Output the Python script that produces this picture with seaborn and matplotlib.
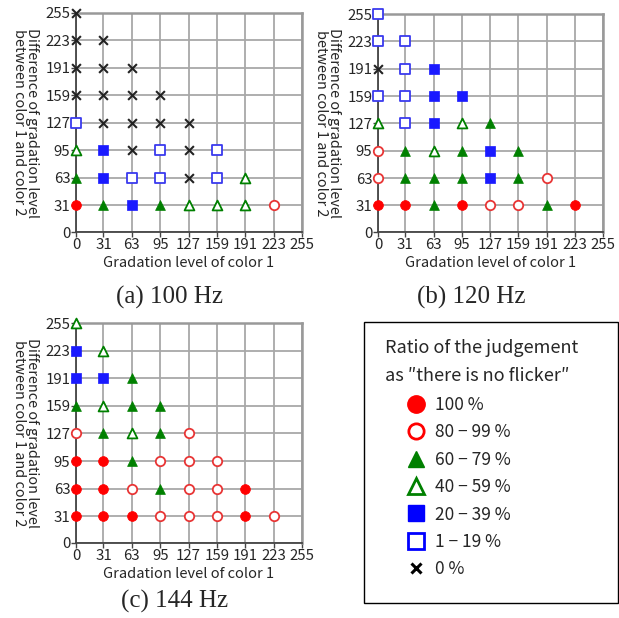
import matplotlib
matplotlib.use("Agg")
import matplotlib.pyplot as plt
from matplotlib.lines import Line2D
from matplotlib.patches import Rectangle
import seaborn as sns
import pandas as pd

sns.set_style("white")
plt.rcParams['font.family'] = ['Noto Sans CJK JP', 'DejaVu Sans']

ticks = [0, 31, 63, 95, 127, 159, 191, 223, 255]

# category codes: c100 filled circle, c80 open circle, t60 filled triangle,
# t40 open triangle, s20 filled square, s1 open square, x0 cross
a_x = [0, 0, 31, 0, 31, 63, 0, 31, 63, 95, 0, 31, 63, 95, 127,
       0, 31, 63, 95, 127, 159, 0, 31, 63, 95, 127, 159, 191,
       0, 31, 63, 95, 127, 159, 191, 223]
a_y = [255, 223, 223, 191, 191, 191, 159, 159, 159, 159, 127, 127, 127, 127, 127,
       95, 95, 95, 95, 95, 95, 63, 63, 63, 63, 63, 63, 63,
       31, 31, 31, 31, 31, 31, 31, 31]
a_cat = ['x0', 'x0', 'x0', 'x0', 'x0', 'x0', 'x0', 'x0', 'x0', 'x0',
         's1', 'x0', 'x0', 'x0', 'x0',
         't40', 's20', 'x0', 's1', 'x0', 's1',
         't60', 's20', 's1', 's1', 'x0', 's1', 't40',
         'c100', 't60', 's20', 't60', 't40', 't40', 't40', 'c80']

b_x = a_x
b_y = a_y
b_cat = ['s1', 's1', 's1', 'x0', 's1', 's20', 's1', 's1', 's20', 's20',
         't40', 's1', 's20', 't40', 't60',
         'c80', 't60', 't40', 't60', 's20', 't60',
         'c80', 't60', 't60', 't60', 's20', 't60', 'c80',
         'c100', 'c100', 't60', 'c100', 'c80', 'c80', 't60', 'c100']

c_x = a_x
c_y = a_y
c_cat = ['t40', 's20', 't40', 's20', 's20', 't60', 't60', 't40', 't60', 't60',
         'c80', 't60', 't40', 't60', 'c80',
         'c100', 'c100', 't60', 'c80', 'c80', 'c80',
         'c100', 'c100', 'c80', 't60', 'c80', 'c80', 'c100',
         'c100', 'c100', 'c100', 'c80', 'c80', 'c80', 'c100', 'c80']

cat_order = ['c100', 'c80', 't60', 't40', 's20', 's1', 'x0']
cat_labels = ['100 %', '80 \u2212 99 %', '60 \u2212 79 %', '40 \u2212 59 %',
              '20 \u2212 39 %', '1 \u2212 19 %', '0 %']
titles = ['(a) 100 Hz', '(b) 120 Hz', '(c) 144 Hz']

RED, GREEN, BLUE = '#ff0000', '#008000', '#1a1aff'
style = {
    'c100': dict(marker='o', color=RED, edgecolor=RED, s=50, linewidth=0.5),
    'c80': dict(marker='o', facecolor='white', edgecolor='#e83535', s=46, linewidth=1.3),
    't60': dict(marker='^', color=GREEN, edgecolor=GREEN, s=50, linewidth=0.5),
    't40': dict(marker='^', facecolor='white', edgecolor=GREEN, s=50, linewidth=1.3),
    's20': dict(marker='s', color=BLUE, edgecolor=BLUE, s=42, linewidth=0.5),
    's1': dict(marker='s', facecolor='white', edgecolor='#3a3aee', s=42, linewidth=1.3),
    'x0': dict(marker='x', color='#222222', s=40, linewidth=1.5),
}

fig = plt.figure(figsize=(6.19, 6.18), dpi=100)
W, H = 619, 618
ax_a = fig.add_axes([76 / W, 1 - 232 / H, 226 / W, 219 / H])
ax_b = fig.add_axes([378 / W, 1 - 232 / H, 225 / W, 218 / H])
ax_c = fig.add_axes([76 / W, 1 - 543 / H, 226 / W, 220 / H])

for ax, xs, ys, cats in [(ax_a, a_x, a_y, a_cat),
                         (ax_b, b_x, b_y, b_cat),
                         (ax_c, c_x, c_y, c_cat)]:
    df = pd.DataFrame({'x': xs, 'y': ys, 'cat': cats})
    for cat in cat_order:
        sub = df[df['cat'] == cat]
        if len(sub) == 0:
            continue
        sns.scatterplot(data=sub, x='x', y='y', ax=ax, legend=False,
                        clip_on=False, zorder=4, **style[cat])
    ax.set_xlim(0, 255)
    ax.set_ylim(0, 255)
    ax.set_xticks(ticks)
    ax.set_yticks(ticks)
    ax.set_xticklabels([str(t) for t in ticks], fontsize=10.8)
    ax.set_yticklabels([str(t) for t in ticks], fontsize=10.8)
    ax.grid(True, color='#a8a8a8', linewidth=1.3)
    ax.set_axisbelow(True)
    for side in ['top', 'right']:
        ax.spines[side].set_color('#999999')
        ax.spines[side].set_linewidth(1.8)
    for side in ['left', 'bottom']:
        ax.spines[side].set_color('#444444')
        ax.spines[side].set_linewidth(1.3)
    ax.tick_params(axis='both', direction='out', length=3.5, width=1.0,
                   color='#444444', pad=0.5, left=True, bottom=True)
    ax.set_xlabel('Gradation level of color 1', fontsize=10.5)
    ax.set_ylabel('Difference of gradation level\nbetween color 1 and color 2',
                  fontsize=10.4, rotation=270, linespacing=0.92, va='center', ha='center')
    ax.xaxis.set_label_coords(0.5, -0.11)
    ax.yaxis.set_label_coords(-0.225, 0.5)

fig.text(170 / W, 1 - 297 / H, titles[0], family='Liberation Serif', fontsize=18,
         ha='center', va='center')
fig.text(471 / W, 1 - 297 / H, titles[1], family='Liberation Serif', fontsize=18,
         ha='center', va='center')
fig.text(175 / W, 1 - 601 / H, titles[2], family='Liberation Serif', fontsize=18,
         ha='center', va='center')

# legend box
fig.add_artist(Rectangle((364 / W, 1 - 603 / H), 254 / W, 281 / H,
                         transform=fig.transFigure, fill=False,
                         edgecolor='black', linewidth=1.0))
fig.text(385 / W, 1 - 348 / H, 'Ratio of the judgement', fontsize=13,
         va='center', ha='left')
fig.text(385 / W, 1 - 376 / H, 'as \u2033there is no flicker\u2033', fontsize=13,
         va='center', ha='left')

leg_style = {
    'c100': dict(marker='o', color='none', markerfacecolor=RED, markeredgecolor=RED, markersize=12.5),
    'c80': dict(marker='o', color='none', markerfacecolor='white', markeredgecolor=RED, markersize=11, markeredgewidth=2),
    't60': dict(marker='^', color='none', markerfacecolor=GREEN, markeredgecolor=GREEN, markersize=12),
    't40': dict(marker='^', color='none', markerfacecolor='white', markeredgecolor=GREEN, markersize=11, markeredgewidth=2),
    's20': dict(marker='s', color='none', markerfacecolor='#0000ff', markeredgecolor='#0000ff', markersize=11.5),
    's1': dict(marker='s', color='none', markerfacecolor='white', markeredgecolor='#0000ff', markersize=11, markeredgewidth=2),
    'x0': dict(marker='x', color='none', markeredgecolor='black', markersize=7.5, markeredgewidth=2.2),
}
handles = [Line2D([], [], **leg_style[c]) for c in cat_order]
fig.legend(handles, cat_labels, loc='upper left',
           bbox_to_anchor=(406 / W, 1 - 396 / H), frameon=False, fontsize=12.5,
           borderpad=0, borderaxespad=0, handlelength=1.2, handletextpad=0.45,
           labelspacing=0.54)

fig.savefig('out.png', dpi=100)
